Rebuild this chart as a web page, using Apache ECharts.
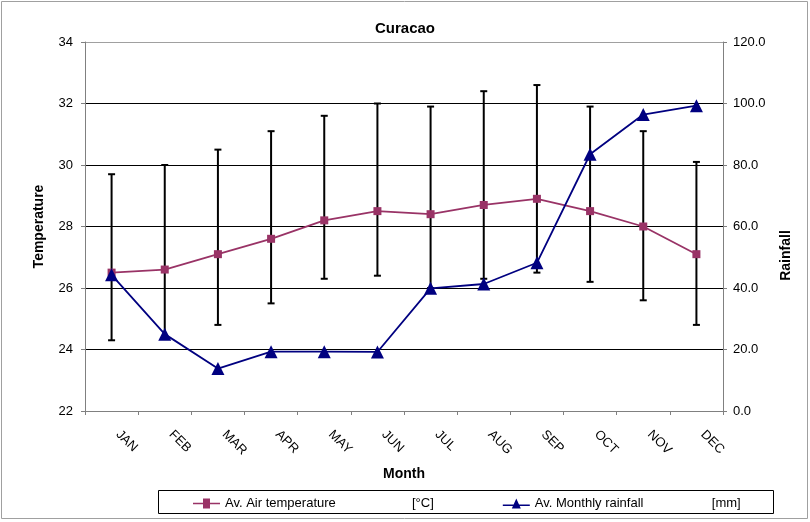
<!DOCTYPE html>
<html><head><meta charset="utf-8">
<script src="https://cdn.jsdelivr.net/npm/echarts@6/dist/echarts.min.js"></script>
<style>html,body{margin:0;padding:0;background:#fff}#c{width:810px;height:522px}</style>
</head><body><div id="c"></div>
<script>
const months = ['JAN','FEB','MAR','APR','MAY','JUN','JUL','AUG','SEP','OCT','NOV','DEC'];
const airTemp = [26.5, 26.6, 27.1, 27.6, 28.2, 28.5, 28.4, 28.7, 28.9, 28.5, 28.0, 27.1];
const rainfall = [44.3, 25.0, 13.8, 19.3, 19.3, 19.2, 39.9, 41.3, 48.2, 83.5, 96.4, 99.3];
const tempHigh = [29.7, 30.0, 30.5, 31.1, 31.6, 32.0, 31.9, 32.4, 32.6, 31.9, 31.1, 30.1];
const tempLow  = [24.3, 24.4, 24.8, 25.5, 26.3, 26.4, 26.0, 26.3, 26.5, 26.2, 25.6, 24.8];
const tempTicks = [22, 34, 2];
const rainTicks = [0, 120, 20];

const font = 'Liberation Sans, Arial, sans-serif';
const chart = echarts.init(document.getElementById('c'));
const errData = months.map((m, i) => [i, tempLow[i], tempHigh[i]]);

chart.setOption({
  animation: false,
  textStyle: { fontFamily: font },
  title: { text: 'Curacao', left: 'center', top: 16,
    textStyle: { fontSize: 15, fontWeight: 'bold', color: '#000', fontFamily: font } },
  grid: { left: 85, right: 87, top: 42, bottom: 111 },
  graphic: [
    { type: 'rect', shape: { x: 1.5, y: 1.5, width: 806, height: 517 },
      style: { fill: 'none', stroke: '#a0a0a0', lineWidth: 1 }, z: -10 },
    { type: 'rect', shape: { x: 158.5, y: 490.5, width: 615, height: 23 },
      style: { fill: 'none', stroke: '#000', lineWidth: 1 }, z: -10 }
  ],
  legend: {
    left: 188, top: 492, itemGap: 69, itemWidth: 27, itemHeight: 10, symbolKeepAspect: false,
    textStyle: { fontSize: 13, color: '#000', fontFamily: font,
      rich: {
        a1: { width: 187, fontSize: 13, fontFamily: font },
        a2: { width: 177, fontSize: 13, fontFamily: font },
        b: { width: 22, fontSize: 13, fontFamily: font }
      } },
    formatter: function (n) {
      return n.indexOf('temperature') > 0 ? '{a1|' + n + '}{b|[°C]}' : '{a2|' + n + '}{b|[mm]}';
    },
    data: [
      { name: 'Av. Air temperature', icon: 'path://M0,4.4L27,4.4L27,5.6L0,5.6Z M10,1.5L17,1.5L17,8.5L10,8.5Z' },
      { name: 'Av. Monthly rainfall', icon: 'path://M0,6L27,6L27,7.2L0,7.2Z M9,9L13.5,1.5L18,9Z' }
    ]
  },
  xAxis: {
    type: 'category', data: months, boundaryGap: true,
    name: 'Month', nameLocation: 'middle', nameGap: 56,
    nameTextStyle: { fontSize: 14, fontWeight: 'bold', color: '#000', fontFamily: font },
    axisLine: { lineStyle: { color: '#808080' } },
    axisTick: { show: true, alignWithLabel: false, length: 4, lineStyle: { color: '#808080' } },
    axisLabel: { rotate: -45, fontSize: 13, color: '#000', margin: 15, padding: [0, 0, 0, 9], fontFamily: font, interval: 0 },
    splitLine: { show: false }
  },
  yAxis: [
    { type: 'value', min: tempTicks[0], max: tempTicks[1], interval: tempTicks[2], position: 'left',
      name: 'Temperature', nameLocation: 'middle', nameGap: 39, nameRotate: 90,
      nameTextStyle: { fontSize: 14, fontWeight: 'bold', color: '#000', fontFamily: font },
      axisLine: { show: true, lineStyle: { color: '#808080' } },
      axisTick: { show: true, length: 4, lineStyle: { color: '#808080' } },
      axisLabel: { fontSize: 13, color: '#000', margin: 12, fontFamily: font },
      splitLine: { show: true, lineStyle: { color: ['#808080','#000','#000','#000','#000','#000','#a0a0a0'], width: 1 } }
    },
    { type: 'value', min: rainTicks[0], max: rainTicks[1], interval: rainTicks[2], position: 'right',
      name: 'Rainfall', nameLocation: 'middle', nameGap: 56, nameRotate: 90,
      nameTextStyle: { fontSize: 14, fontWeight: 'bold', color: '#000', fontFamily: font, padding: [0, 0, 0, -58] },
      axisLine: { show: true, lineStyle: { color: '#808080' } },
      axisTick: { show: true, length: 4, lineStyle: { color: '#808080' } },
      axisLabel: { fontSize: 13, color: '#000', margin: 10, fontFamily: font, formatter: v => v.toFixed(1) },
      splitLine: { show: false }
    }
  ],
  series: [
    { type: 'custom', name: 'errbar', yAxisIndex: 0, z: 1, silent: true,
      data: errData,
      renderItem: function (params, api) {
        const x = api.coord([api.value(0), api.value(1)])[0];
        const lo = api.coord([api.value(0), api.value(1)])[1];
        const hi = api.coord([api.value(0), api.value(2)])[1];
        const st = { stroke: '#000', lineWidth: 2 };
        return { type: 'group', children: [
          { type: 'line', shape: { x1: x, y1: lo, x2: x, y2: hi }, style: st },
          { type: 'line', shape: { x1: x - 3.5, y1: hi, x2: x + 3.5, y2: hi }, style: st },
          { type: 'line', shape: { x1: x - 3.5, y1: lo, x2: x + 3.5, y2: lo }, style: st }
        ] };
      }
    },
    { type: 'line', name: 'Av. Air temperature', yAxisIndex: 0, data: airTemp, z: 3,
      symbol: 'rect', symbolSize: 8,
      lineStyle: { color: '#993366', width: 1.8 }, itemStyle: { color: '#993366' } },
    { type: 'line', name: 'Av. Monthly rainfall', yAxisIndex: 1, data: rainfall, z: 4,
      symbol: 'triangle', symbolSize: 13,
      lineStyle: { color: '#000080', width: 1.8 }, itemStyle: { color: '#000080' } }
  ]
});
</script></body></html>
